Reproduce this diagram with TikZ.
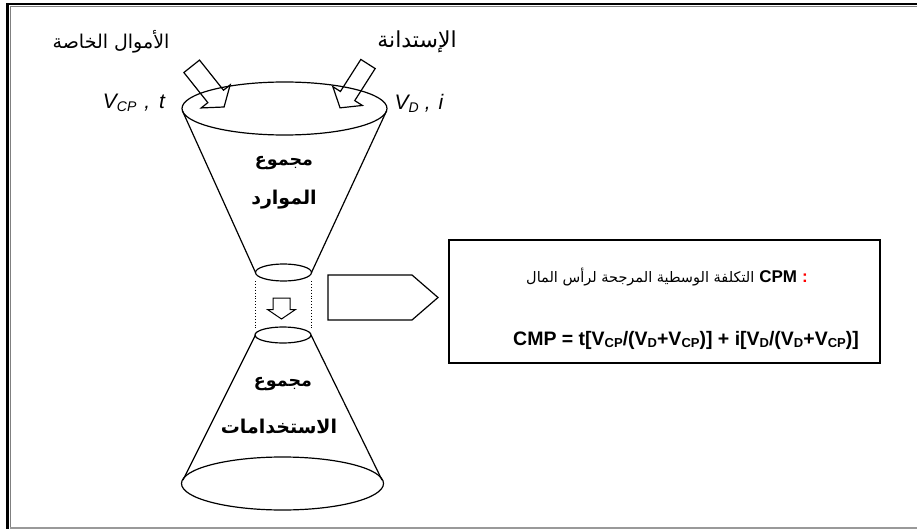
\documentclass[tikz,border=0pt]{standalone}
\usepackage{fontspec}
\setmainfont{Liberation Sans}
\newfontfamily\arabicfont[Script=Arabic]{DejaVu Sans}
\TeXXeTstate=1

% lowered subscript: #1 text, #2 size, #3 drop
\newcommand{\lowsub}[3]{\raisebox{-#3}{\fontsize{#2}{#2}\selectfont #1}}

\begin{document}
\begin{tikzpicture}[x=1pt,y=-1pt,
  outline/.style={draw=black, line width=1.2pt},
  thinline/.style={draw=black, line width=1pt},
  arlabel/.style={inner sep=0pt, font=\arabicfont\fontsize{19}{21}\selectfont},
  arbold/.style={inner sep=0pt, font=\arabicfont\bfseries\fontsize{19}{21}\selectfont},
  varlabel/.style={inner sep=0pt, font=\itshape\fontsize{21}{23}\selectfont},
  boxtext/.style={inner sep=0pt},
  blockarrow/.style={draw=black, line width=1.2pt, line join=miter}]

\useasboundingbox (0,0) rectangle (917,529);

% page frame with shadow-like double edge
\draw[black, line width=2.6pt] (7.2,529) -- (7.2,4) -- (917,4);
\draw[gray, line width=1.2pt] (10.5,529) -- (10.5,6.4) -- (917,6.4);
\draw[gray!80, line width=1.4pt] (10,527.8) -- (917,527.8);

% upper funnel (resources)
\draw[outline] (284.5,108.5) ellipse [x radius=102.5pt, y radius=26.5pt];
\draw[outline] (182.5,111) -- (255.5,272.5);
\draw[outline] (386.5,111) -- (311.5,272.5);
\draw[outline] (283.5,272.5) ellipse [x radius=28pt, y radius=8.5pt];

% neck between the two funnels
\draw[black, dotted, line width=0.9pt] (255.5,281) -- (255.5,330);
\draw[black, dotted, line width=0.9pt] (311.5,281) -- (311.5,330);
\draw[thinline] (273,298) -- (290,298) -- (290,309.5) -- (295.5,309.5)
  -- (281.5,319) -- (267.5,309.5) -- (273,309.5) -- cycle;

% lower funnel (uses)
\draw[outline] (283,335) ellipse [x radius=28pt, y radius=8pt];
\draw[outline] (255.5,335) -- (183,480);
\draw[outline] (311,335) -- (382,480);
\draw[outline] (282.5,483.5) ellipse [x radius=101pt, y radius=26.5pt];

% incoming block arrows
\begin{scope}[shift={(191.7,66.3)}, rotate=-51.5]
  \draw[blockarrow] (0,10) -- (38.5,10) -- (38.5,18.5) -- (52,0)
    -- (38.5,-18.5) -- (38.5,-10) -- (0,-10) -- cycle;
\end{scope}
\begin{scope}[shift={(368,64)}, rotate=-122.5]
  \draw[blockarrow] (0,8.5) -- (38,8.5) -- (38,17.5) -- (52,0)
    -- (38,-17.5) -- (38,-8.5) -- (0,-8.5) -- cycle;
\end{scope}

% outgoing pentagon arrow
\draw[outline] (328,275) -- (412,275) -- (438,297.5) -- (412,320) -- (328,320) -- cycle;

% result box
\node[draw=black, line width=1.3pt, minimum width=431pt, minimum height=123pt,
  inner sep=0pt] (cpmbox) at (664.5,301.5) {};

% labels
\node[arlabel] (equity) at (111,42) {\beginR الأموال الخاصة\endR};
\node[arlabel, font=\arabicfont\fontsize{22}{24}\selectfont] (debt) at (417,42) {\beginR الإستدانة\endR};
\node[varlabel] (vcp) at (134,103) {V\lowsub{CP}{14}{3pt}\hspace{8pt},\hspace{9pt}t};
\node[varlabel] (vd) at (419,103) {V\lowsub{D}{14}{3pt}\hspace{6pt},\hspace{8pt}i};

\node[arbold, font=\arabicfont\bfseries\fontsize{17.5}{19}\selectfont] (res1) at (284,163) {\beginR مجموع\endR};
\node[arbold] (res2) at (284,200) {\beginR الموارد\endR};
\node[arbold, font=\arabicfont\bfseries\fontsize{17.5}{19}\selectfont] (use1) at (283,384) {\beginR مجموع\endR};
\node[arbold] (use2) at (279,427) {\beginR الاستخدامات\endR};

\node[boxtext] (title) at (667,277) {%
  {\arabicfont\fontsize{14.5}{17}\selectfont\beginR التكلفة الوسطية المرجحة لرأس المال\endR}%
  \hspace{5pt}{\bfseries\fontsize{17}{19}\selectfont CPM\hspace{5pt}\textcolor{red}{:}}};
\node[boxtext] (formula) at (686,340) {\bfseries\fontsize{19.5}{22}\selectfont
  CMP = t[V\lowsub{CP}{13}{2pt}/(V\lowsub{D}{13}{2pt}+V\lowsub{CP}{13}{2pt})] +
  i[V\lowsub{D}{13}{2pt}/(V\lowsub{D}{13}{2pt}+V\lowsub{CP}{13}{2pt})]};
\end{tikzpicture}
\end{document}
